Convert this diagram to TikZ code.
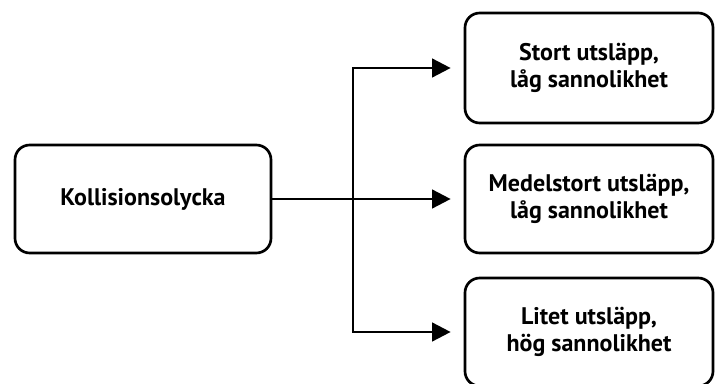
\documentclass[tikz,border=0pt]{standalone}
\usepackage{fontspec}
\setmainfont{PT Sans}
\usetikzlibrary{arrows.meta,positioning,calc}

\begin{document}
\begin{tikzpicture}[x=0.75pt,y=0.75pt,
    box/.style={draw,line width=2pt,rounded corners=11pt,align=center,
      inner sep=0pt,minimum width=186pt,minimum height=81pt,
      font=\fontsize{18}{20.5}\selectfont\bfseries},
    arr/.style={line width=2pt,-{Triangle[length=14pt,width=14pt]},shorten >=9.75pt}]
    % fix the margins
    \useasboundingbox (0,0) rectangle (715,383);
    % draw start box
    \node[box,minimum width=192pt] (kol) at (143,184) {Kollisionsolycka};
    % draw outcome boxes
    \node[box,minimum height=82.5pt] (stor) at (589,315) {Stort utsläpp,\\låg sannolikhet};
    \node[box] (medel) at (589,184) {Medelstort utsläpp,\\låg sannolikhet};
    \node[box] (litet) at (589,51) {Litet utsläpp,\\hög sannolikhet};
    % draw branch point
    \coordinate (fork) at (353,184);
    % draw arrows
    \draw[arr] (kol.east) -- (medel.west);
    \foreach \n in {stor,litet}
    \draw[arr] (fork) |- (\n.west);
\end{tikzpicture}
\end{document}
